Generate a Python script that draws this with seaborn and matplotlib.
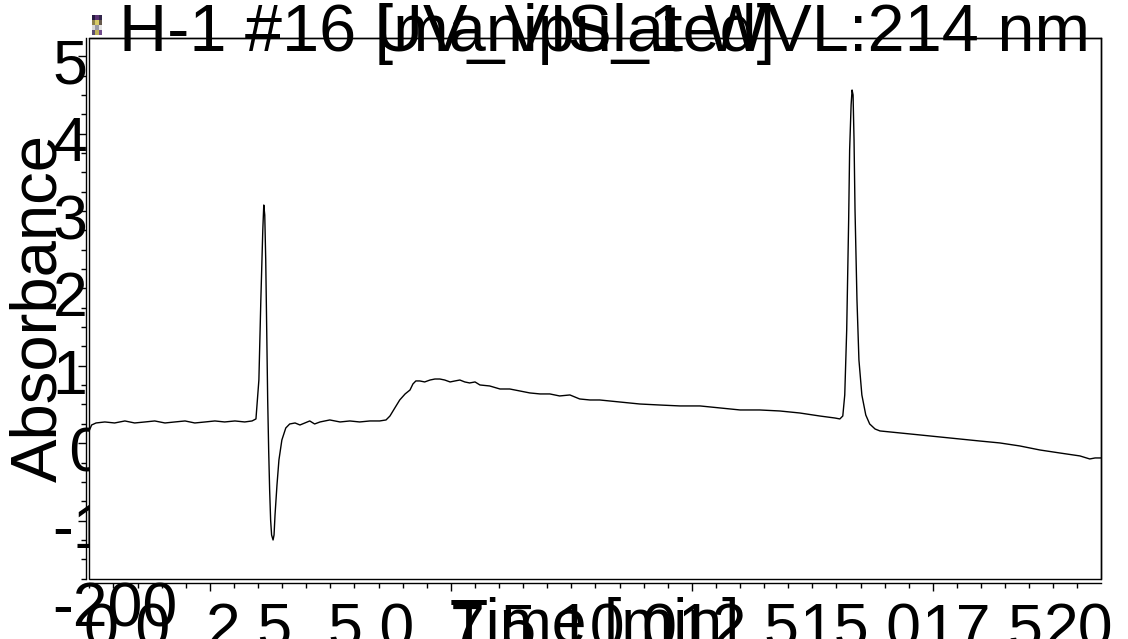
import numpy as np
import pandas as pd
import matplotlib
matplotlib.use("Agg")
import matplotlib.pyplot as plt
import seaborn as sns
from matplotlib.ticker import FixedLocator
from matplotlib.transforms import blended_transform_factory, ScaledTranslation
from matplotlib.patches import Rectangle

# ---------------- data ----------------
time_min = [-0.78, -0.72, -0.63, -0.45, -0.25, -0.04, 0.16, 0.37, 0.57, 0.78, 0.98,
            1.19, 1.39, 1.60, 1.80, 2.00, 2.21, 2.41, 2.56, 2.64, 2.70, 2.74, 2.78,
            2.80, 2.82, 2.84, 2.86, 2.88, 2.90, 2.92, 2.94, 2.96, 2.99, 3.01, 3.03,
            3.07, 3.11, 3.17, 3.25, 3.33, 3.44, 3.54, 3.64, 3.74, 3.84, 3.95, 4.15,
            4.36, 4.56, 4.76, 4.97, 5.17, 5.30, 5.38, 5.48, 5.58, 5.69, 5.79, 5.85,
            5.91, 5.99, 6.09, 6.20, 6.30, 6.40, 6.50, 6.61, 6.71, 6.81, 6.91, 7.01,
            7.12, 7.22, 7.42, 7.63, 7.83, 8.04, 8.24, 8.45, 8.65, 8.85, 9.06, 9.26,
            9.47, 9.67, 10.08, 10.49, 10.90, 11.31, 11.72, 12.13, 12.54, 12.94, 13.35,
            13.76, 14.17, 14.48, 14.58, 14.64, 14.68, 14.72, 14.76, 14.78, 14.81,
            14.83, 14.85, 14.87, 14.89, 14.93, 14.97, 15.03, 15.11, 15.19, 15.30,
            15.40, 15.81, 16.22, 16.83, 17.44, 17.85, 18.26, 18.67, 19.08, 19.49,
            19.69, 19.80, 19.92]
absorbance = [22.0, 31.0, 33.6, 34.9, 33.6, 36.2, 33.6, 34.9, 36.2, 33.6, 34.9,
              36.2, 33.6, 34.9, 36.2, 34.9, 36.2, 34.9, 36.2, 38.8, 89.1, 192.5, 283.0,
              315.2, 302.3, 244.2, 153.9, 63.3, -1.3, -53.0, -91.7, -111.1, -117.6, -111.1, -85.3,
              -46.5, -14.2, 11.6, 27.1, 32.3, 33.6, 31.0, 33.6, 36.2, 32.3, 34.9, 37.5,
              34.9, 36.2, 34.9, 36.2, 36.2, 37.5, 42.6, 53.0, 63.3, 71.1, 76.2, 84.0,
              87.9, 87.9, 86.6, 89.1, 90.4, 90.4, 89.1, 86.6, 87.9, 89.1, 86.6, 85.3,
              86.6, 82.7, 81.4, 77.5, 77.5, 74.9, 72.4, 71.1, 71.1, 68.5, 69.8, 64.6,
              63.3, 63.3, 60.7, 58.1, 56.8, 55.6, 55.6, 53.0, 50.4, 50.4, 49.1,
              46.5, 42.6, 40.0, 38.8, 42.6, 69.8, 153.9, 295.9, 386.3, 444.4,
              463.8, 457.4, 399.2, 308.8, 192.5, 115.0, 69.8, 43.9, 32.3, 25.8,
              23.3, 20.7, 18.1, 14.2, 10.3, 7.8, 3.9, -1.3, -5.2, -9.0,
              -12.9, -11.6, -11.6]

x_tick_values = [0.0, 2.5, 5.0, 7.5, 10.0, 12.5, 15.0, 17.5, 20.0]
x_tick_labels = ["0.0", "2.5", "5.0", "7.5", "10.0", "12.5", "15.0", "17.5", "20.0"]
y_tick_values = [500, 400, 300, 200, 100, 0, -100, -200]
y_tick_labels = ["500", "400", "300", "200", "100", " 0", "-100", "-200"]
title_left = "H-1 #16 [manipulated]"
title_right = "UV_VIS_1 WVL:214 nm"
x_label = "Time [min]"
y_label = "Absorbance"
icon_rgb = [[[0.15, 0.10, 0.25], [0.35, 0.20, 0.45], [0.20, 0.15, 0.30]],
            [[0.55, 0.50, 0.30], [0.85, 0.80, 0.40], [0.40, 0.35, 0.30]],
            [[0.85, 0.85, 0.85], [0.60, 0.60, 0.65], [0.90, 0.90, 0.90]],
            [[0.35, 0.30, 0.45], [0.75, 0.70, 0.35], [0.45, 0.30, 0.55]]]

# ---------------- style ----------------
sns.set_theme(style="white")
plt.rcParams['font.family'] = ['Liberation Sans', 'DejaVu Sans']

W, H = 1128, 639
fig = plt.figure(figsize=(W / 100, H / 100), dpi=100)
fig.patch.set_facecolor('white')

left_px, right_px, top_px, bottom_px = 88.7, 1101, 38, 579
ax = fig.add_axes([left_px / W, (H - bottom_px) / H,
                   (right_px - left_px) / W, (bottom_px - top_px) / H])
ax.set_facecolor('white')

df = pd.DataFrame({'t': time_min, 'a': absorbance})
sns.lineplot(data=df, x='t', y='a', ax=ax, color='black', linewidth=1.0,
             sort=False, estimator=None)
ax.set_xlim(-0.78, 19.92)
ax.set_ylim(-168, 531)
ax.set_xlabel("")
ax.set_ylabel("")

for s in ax.spines.values():
    s.set_color('black')
    s.set_linewidth(1.0)
ax.spines['left'].set_position(('outward', 2.0))
ax.spines['bottom'].set_position(('outward', 3.0))
ax.add_patch(Rectangle((0, 0), 1, 1, transform=ax.transAxes, fill=False,
                       edgecolor='black', linewidth=1.0, clip_on=False, zorder=5))

# ticks (positions only; labels drawn as separate texts)
x_minor = np.arange(1.697 - 0.4928 * 5, 20.0, 0.4928)
x_major = x_minor[5::10]
ax.xaxis.set_major_locator(FixedLocator(x_major))
ax.xaxis.set_minor_locator(FixedLocator(x_minor))
y_minor = np.arange(-167.5, 531, 25)
y_major = y_minor[3::4]
ax.yaxis.set_major_locator(FixedLocator(y_major))
ax.yaxis.set_minor_locator(FixedLocator(y_minor))
ax.tick_params(axis='both', which='both', direction='out', color='black',
               labelleft=False, labelbottom=False, left=True, bottom=True, width=1.0)
ax.tick_params(axis='both', which='major', length=6)
ax.tick_params(axis='both', which='minor', length=3.5)

FS = 45
# y tick labels (behind the axes background, so the plot box hides their right part)
ytr = blended_transform_factory(fig.transFigure, ax.transData) + \
    ScaledTranslation(0, -0.225, fig.dpi_scale_trans)
for v, lab in zip(y_tick_values, y_tick_labels):
    fig.text(52.5 / W, v, lab, transform=ytr, ha='left', va='baseline',
             fontsize=FS, color='black', zorder=-1)

# x tick labels
xtr = blended_transform_factory(ax.transData, fig.transFigure)
for v, lab in zip(x_tick_values, x_tick_labels):
    fig.text(v, (H - 648) / H, lab, transform=xtr, ha='center', va='baseline',
             fontsize=FS, color='black', zorder=2)

# axis labels
fig.text(0.5 * (left_px + right_px) / W, (H - 643) / H, x_label, ha='center',
         va='baseline', fontsize=FS, color='black', zorder=2)
fig.text(56 / W, (H - 0.5 * (top_px + bottom_px)) / H, y_label, rotation=90,
         ha='center', va='baseline', rotation_mode='anchor', fontsize=47,
         color='black', zorder=2)

# title
fig.text(119 / W, (H - 51) / H, title_left, ha='left', va='baseline',
         fontsize=48, color='black', zorder=2)
fig.text(1090 / W, (H - 51) / H, title_right, ha='right', va='baseline',
         fontsize=48, color='black', zorder=2)

# small instrument icon at top-left
iax = fig.add_axes([92 / W, (H - 35) / H, 10 / W, 20 / H])
iax.imshow(np.array(icon_rgb), aspect='auto', interpolation='nearest')
iax.set_axis_off()

fig.savefig("out.png", dpi=100, facecolor='white')
